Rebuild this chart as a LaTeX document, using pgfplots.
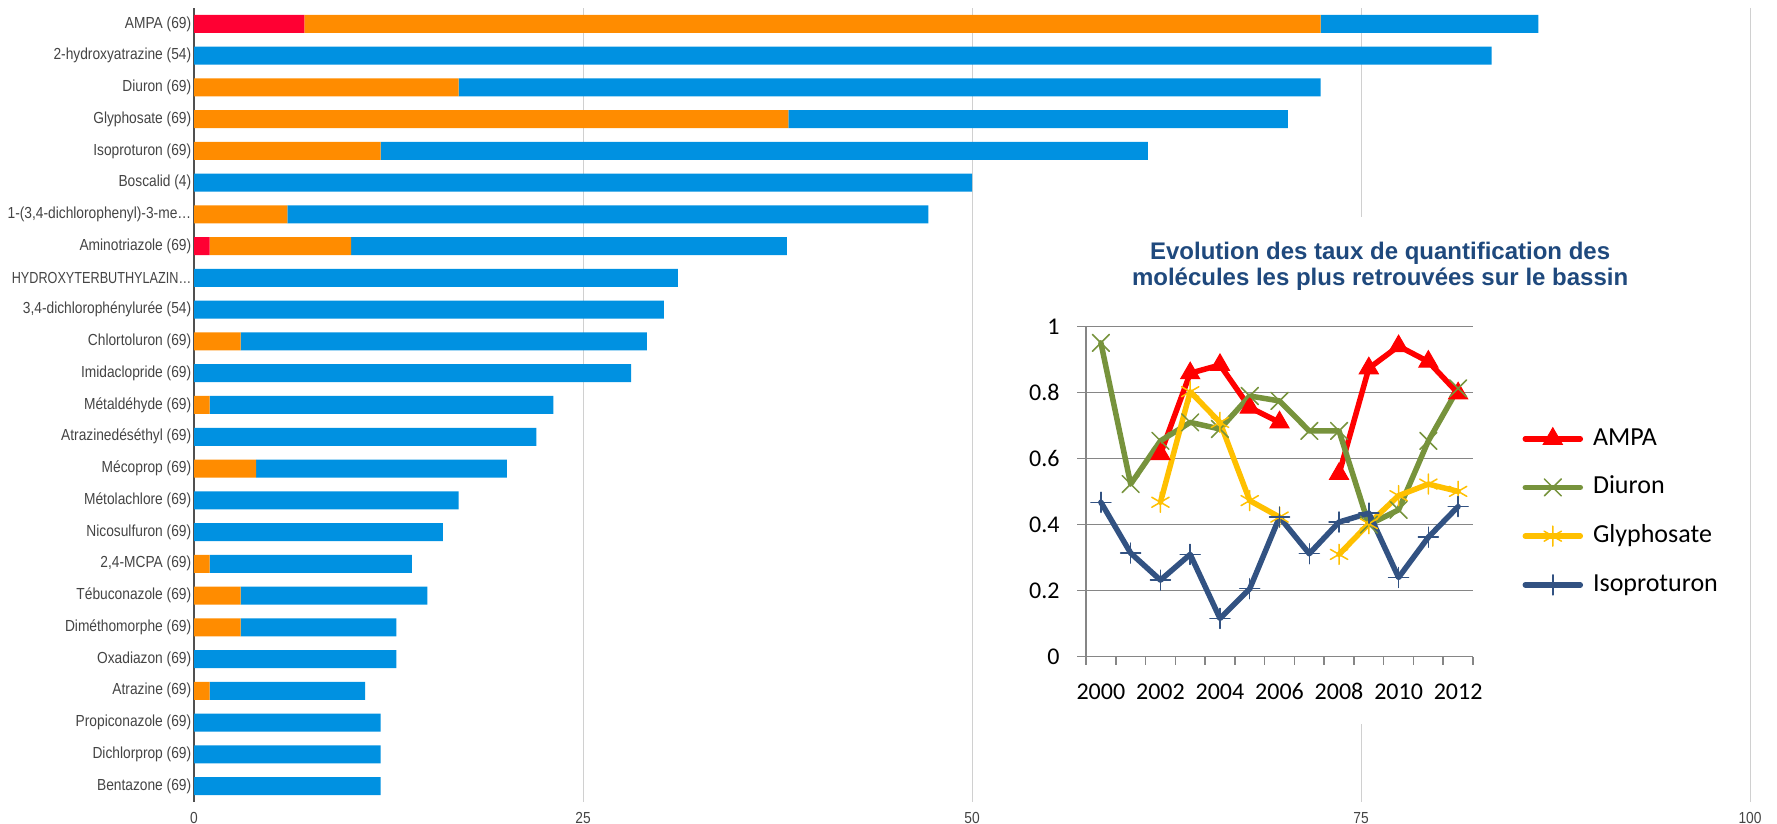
\documentclass[border=0pt]{standalone}
\usepackage{fontspec}
\usepackage{graphicx}
\usepackage{pgfplots}
\usepackage{pgfplotstable}
\pgfplotsset{compat=1.18}
\setmainfont{Carlito}
\newfontfamily\barfont[FakeStretch=0.86]{Liberation Sans}
\newfontfamily\titlefont{Liberation Sans}

\definecolor{cred}{RGB}{255,0,51}
\definecolor{corange}{RGB}{255,140,0}
\definecolor{cblue}{RGB}{0,145,225}
\definecolor{labelgray}{RGB}{68,68,68}
\definecolor{gridgray}{RGB}{208,208,208}
\definecolor{axisgray}{RGB}{80,80,80}
\definecolor{ingray}{RGB}{134,134,134}
\definecolor{titleblue}{RGB}{31,73,125}
\definecolor{lampa}{RGB}{255,0,0}
\definecolor{ldiuron}{RGB}{119,147,60}
\definecolor{lglypho}{RGB}{255,192,0}
\definecolor{liso}{RGB}{50,82,130}

% row 24 = AMPA (top) ... row 0 = Bentazone (bottom)
\pgfplotstableread{
row red orange blue
24 7.1 65.3 14.0
23 0 0 83.4
22 0 17.0 55.4
21 0 38.2 32.1
20 0 12.0 49.3
19 0 0 50.0
18 0 6.0 41.2
17 1.0 9.1 28.0
16 0 0 31.1
15 0 0 30.2
14 0 3.0 26.1
13 0 0 28.1
12 0 1.0 22.1
11 0 0 22.0
10 0 4.0 16.1
9 0 0 17.0
8 0 0 16.0
7 0 1.0 13.0
6 0 3.0 12.0
5 0 3.0 10.0
4 0 0 13.0
3 0 1.0 10.0
2 0 0 12.0
1 0 0 12.0
0 0 0 12.0
}\bars

% 0 = 2000 ... 12 = 2012
\pgfplotstableread{
x ampa diuron glypho iso
0 nan 0.951 nan 0.468
1 nan 0.523 nan 0.314
2 0.614 0.654 0.468 0.232
3 0.859 0.710 0.803 0.310
4 0.884 0.690 0.710 0.116
5 0.755 0.790 0.473 0.206
6 0.710 0.775 0.423 0.423
7 nan 0.684 nan 0.312
8 0.554 0.684 0.310 0.408
9 0.874 0.400 0.403 0.435
10 0.941 0.445 0.488 0.240
11 0.894 0.654 0.523 0.362
12 0.798 0.813 0.501 0.455
}\evol

\begin{document}
\begin{tikzpicture}
\path[use as bounding box] (0,0) rectangle (888.5pt,412pt);

\begin{axis}[
  at={(97pt,11pt)}, anchor=south west, scale only axis,
  width=778pt, height=397pt,
  xbar stacked, bar width=9pt,
  xmin=0, xmax=100, ymin=-0.5, ymax=24.5,
  xtick={0,25,50,75,100},
  ytick={0,...,24},
  yticklabels={{Bentazone (69)}, {Dichlorprop (69)}, {Propiconazole (69)}, {Atrazine (69)},
    {Oxadiazon (69)}, {Diméthomorphe (69)}, {Tébuconazole (69)}, {2,4-MCPA (69)},
    {Nicosulfuron (69)}, {Métolachlore (69)}, {Mécoprop (69)}, {Atrazinedéséthyl (69)},
    {Métaldéhyde (69)}, {Imidaclopride (69)}, {Chlortoluron (69)}, {3,4-dichlorophénylurée (54)},
    {\scalebox{0.92}[1]{HYDROXYTERBUTHYLAZIN\ldots}}, {Aminotriazole (69)}, {1-(3,4-dichlorophenyl)-3-me\ldots},
    {Boscalid (4)}, {Isoproturon (69)}, {Glyphosate (69)}, {Diuron (69)},
    {2-hydroxyatrazine (54)}, {AMPA (69)}},
  axis lines*=left,
  x axis line style={draw=none},
  y axis line style={draw=axisgray, line width=0.75pt},
  major tick length=0pt,
  xmajorgrids, grid style={draw=gridgray, line width=0.5pt},
  tick label style={font=\barfont\fontsize{8pt}{9pt}\selectfont, text=labelgray},
  yticklabel style={anchor=east, inner sep=0pt, xshift=-1.2pt},
  xticklabel style={anchor=north, inner sep=0pt, yshift=-5pt},
  /pgf/number format/assume math mode=true,
]
\addplot[fill=cred, draw=none] table[x=red, y=row] {\bars};
\addplot[fill=corange, draw=none] table[x=orange, y=row] {\bars};
\addplot[fill=cblue, draw=none] table[x=blue, y=row] {\bars};
\end{axis}

\fill[white] (500pt,50pt) rectangle (872pt,303.5pt);

\begin{axis}[
  at={(543pt,83.65pt)}, anchor=south west, scale only axis,
  width=193.5pt, height=165pt,
  xmin=-0.5, xmax=12.5, ymin=0, ymax=1,
  xtick={0,2,...,12},
  xticklabels={2000,2002,2004,2006,2008,2010,2012},
  minor xtick={-0.5,0.5,...,12.5},
  ytick={0,0.2,...,1},
  axis x line*=bottom, axis y line*=left,
  axis line style={-, draw=ingray, line width=0.75pt},
  tick align=outside,
  major tick length=4.5pt, minor tick length=4pt,
  major x tick style={draw=none},
  minor x tick style={draw=ingray, line width=0.75pt},
  ytick style={draw=ingray, line width=0.75pt},
  ymajorgrids, grid style={draw=ingray, line width=0.75pt},
  tick label style={font=\fontsize{12pt}{14pt}\selectfont, text=black},
  yticklabel style={anchor=east, inner sep=0pt, xshift=-8.5pt},
  xticklabel style={anchor=base, inner sep=0pt, yshift=-16.8pt},
  /pgf/number format/assume math mode=true,
  unbounded coords=jump,
  title={Evolution des taux de quantification des\\molécules les plus retrouvées sur le bassin},
  title style={at={(0.76,1.147)}, anchor=center, align=center, inner sep=0pt,
    font=\titlefont\bfseries\fontsize{12pt}{13pt}\selectfont, text=titleblue},
  legend style={at={(1.128,0.439)}, anchor=west, draw=none, fill=none,
    inner sep=0pt, outer sep=0pt, row sep=12.85pt,
    font=\fontsize{13pt}{15pt}\selectfont,
    nodes={inner sep=0pt, text height=9pt, text depth=2.5pt},
    /tikz/every odd column/.append style={column sep=5pt}},
  legend cell align=left,
  legend image code/.code={\draw[mark repeat=2, mark phase=2, #1]
    plot coordinates {(0pt,0pt) (13.75pt,0pt) (27.5pt,0pt)};},
  every axis plot/.append style={line width=2.75pt, line join=round, line cap=round},
]
\addplot[color=lampa, mark=triangle*, mark size=5.5pt, mark options={line width=0.5pt, line join=miter}]
  table[x=x, y=ampa] {\evol};
\addlegendentry{AMPA}
\addplot[color=ldiuron, mark=x, mark size=6pt, mark options={line width=0.75pt}]
  table[x=x, y=diuron] {\evol};
\addlegendentry{Diuron}
\addplot[color=lglypho, mark=asterisk, mark size=5pt, mark options={line width=0.75pt}]
  table[x=x, y=glypho] {\evol};
\addlegendentry{Glyphosate}
\addplot[color=liso, mark=+, mark size=5pt, mark options={line width=0.75pt}]
  table[x=x, y=iso] {\evol};
\addlegendentry{Isoproturon}
\end{axis}
\end{tikzpicture}
\end{document}
